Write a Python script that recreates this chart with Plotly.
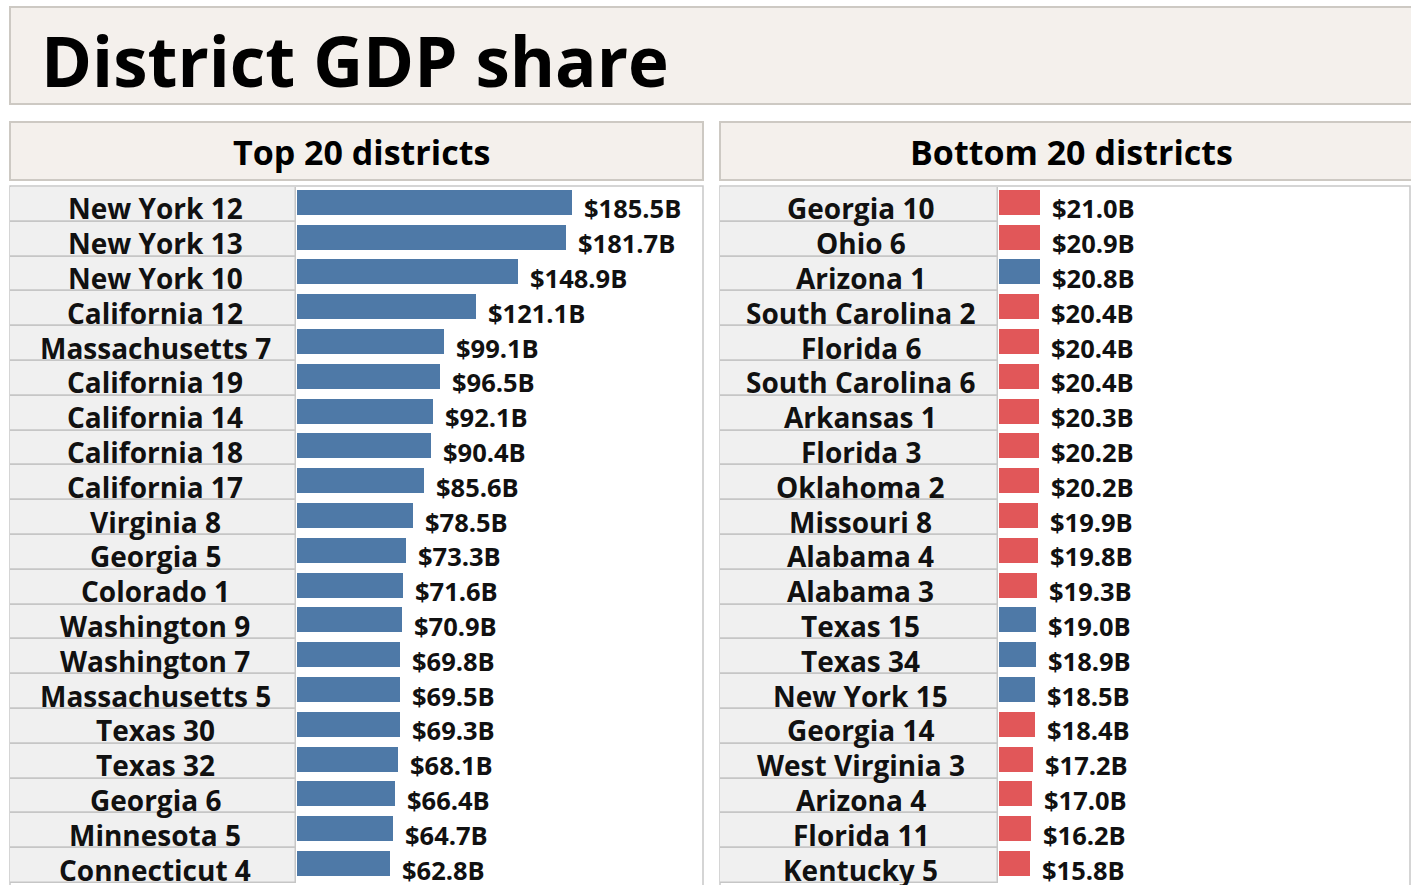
import plotly.graph_objects as go

W, H = 1411, 885

title_text = "District GDP share"
top_header = "Top 20 districts"
bottom_header = "Bottom 20 districts"

top_names = ["New York 12", "New York 13", "New York 10", "California 12", "Massachusetts 7",
             "California 19", "California 14", "California 18", "California 17", "Virginia 8",
             "Georgia 5", "Colorado 1", "Washington 9", "Washington 7", "Massachusetts 5",
             "Texas 30", "Texas 32", "Georgia 6", "Minnesota 5", "Connecticut 4"]
top_values = [185.5, 181.7, 148.9, 121.1, 99.1, 96.5, 92.1, 90.4, 85.6, 78.5,
              73.3, 71.6, 70.9, 69.8, 69.5, 69.3, 68.1, 66.4, 64.7, 62.8]
top_party = ["D"] * 20

bottom_names = ["Georgia 10", "Ohio 6", "Arizona 1", "South Carolina 2", "Florida 6",
                "South Carolina 6", "Arkansas 1", "Florida 3", "Oklahoma 2", "Missouri 8",
                "Alabama 4", "Alabama 3", "Texas 15", "Texas 34", "New York 15",
                "Georgia 14", "West Virginia 3", "Arizona 4", "Florida 11", "Kentucky 5"]
bottom_values = [21.0, 20.9, 20.8, 20.4, 20.4, 20.4, 20.3, 20.2, 20.2, 19.9,
                 19.8, 19.3, 19.0, 18.9, 18.5, 18.4, 17.2, 17.0, 16.2, 15.8]
bottom_party = ["R", "R", "D", "R", "R", "R", "R", "R", "R", "R",
                "R", "R", "D", "D", "D", "R", "R", "R", "R", "R"]

PARTY_COLORS = {"D": "#4E79A7", "R": "#E15759"}
FONT = "Open Sans"
BOX_FILL = "#F4F0EC"
BOX_LINE = "#CDC9C3"
CELL_FILL = "#F0F0F0"
CELL_LINE = "#C6C6C6"


def px(x):
    return x / W


def py(y):
    return 1 - y / H


ROW_H = 34.8
TABLE_TOP = 187
visible_rows = (H - TABLE_TOP) / ROW_H
y_range = [-0.5 + visible_rows, -0.5]
y_domain = [0, py(TABLE_TOP)]

fig = go.Figure()

panels = [
    dict(names=top_names, values=top_values, party=top_party, xa="x", ya="y", xl="x3",
         x_left=10, x_right=703),
    dict(names=bottom_names, values=bottom_values, party=bottom_party, xa="x2", ya="y2", xl="x4",
         x_left=720, x_right=1410),
]

annotations = []
shapes = []

for p in panels:
    # label cells
    fig.add_trace(go.Bar(
        x=[1] * len(p["names"]), y=p["names"], orientation="h", width=1,
        xaxis=p["xl"], yaxis=p["ya"],
        marker=dict(color=CELL_FILL, line=dict(color=CELL_LINE, width=1.5)),
        hoverinfo="skip", showlegend=False,
    ))
    # value bars
    fig.add_trace(go.Bar(
        x=p["values"], y=p["names"], orientation="h", width=0.72, offset=-0.42,
        xaxis=p["xa"], yaxis=p["ya"],
        marker=dict(color=[PARTY_COLORS[q] for q in p["party"]], line=dict(width=0)),
        showlegend=False,
        hovertemplate="%{y}: $%{x:.1f}B<extra></extra>",
    ))
    for n, v in zip(p["names"], p["values"]):
        annotations.append(dict(
            x=v, y=n, xref=p["xa"], yref=p["ya"], text=f"<b>${v:.1f}B</b>",
            showarrow=False, xanchor="left", yanchor="middle", xshift=10, yshift=-4,
            font=dict(family=FONT, size=25.5, color="#111111"),
        ))
        annotations.append(dict(
            x=0.5, y=n, xref=p["xl"], yref=p["ya"], text=f"<b>{n}</b>",
            showarrow=False, xanchor="center", yanchor="middle", xshift=2, yshift=-4,
            font=dict(family=FONT, size=28, color="#111111"),
        ))
    # table outline
    shapes.append(dict(type="rect", xref="paper", yref="paper",
                       x0=px(p["x_left"]), x1=px(p["x_right"]), y0=py(H + 5), y1=py(186),
                       line=dict(color="#C8C8C8", width=1.5), fillcolor="white", layer="below"))

# title box
shapes.append(dict(type="rect", xref="paper", yref="paper", x0=px(10), x1=px(1425), y0=py(104), y1=py(7),
                   line=dict(color=BOX_LINE, width=2), fillcolor=BOX_FILL, layer="below"))
# header boxes
shapes.append(dict(type="rect", xref="paper", yref="paper", x0=px(10), x1=px(703), y0=py(180), y1=py(122),
                   line=dict(color=BOX_LINE, width=2), fillcolor=BOX_FILL, layer="below"))
shapes.append(dict(type="rect", xref="paper", yref="paper", x0=px(720), x1=px(1425), y0=py(180), y1=py(122),
                   line=dict(color=BOX_LINE, width=2), fillcolor=BOX_FILL, layer="below"))

annotations.append(dict(x=px(39), y=py(60), xref="paper", yref="paper", text=f"<b>{title_text}</b>",
                        showarrow=False, xanchor="left", yanchor="middle",
                        font=dict(family=FONT, size=69, color="#000000")))
annotations.append(dict(x=px(361), y=py(152), xref="paper", yref="paper", text=f"<b>{top_header}</b>",
                        showarrow=False, xanchor="center", yanchor="middle",
                        font=dict(family=FONT, size=34, color="#000000")))
annotations.append(dict(x=px(1071), y=py(152), xref="paper", yref="paper", text=f"<b>{bottom_header}</b>",
                        showarrow=False, xanchor="center", yanchor="middle",
                        font=dict(family=FONT, size=34, color="#000000")))

hidden = dict(visible=False, showgrid=False, zeroline=False, fixedrange=True)

fig.update_layout(
    width=W, height=H,
    margin=dict(l=0, r=0, t=0, b=0),
    paper_bgcolor="white", plot_bgcolor="rgba(0,0,0,0)",
    barmode="overlay", bargap=0,
    xaxis=dict(domain=[px(297), px(703)], range=[0, 274], anchor="y", **hidden),
    xaxis2=dict(domain=[px(999), px(1410)], range=[0, 209], anchor="y2", **hidden),
    xaxis3=dict(domain=[px(10), px(296)], range=[0, 1], anchor="y", **hidden),
    xaxis4=dict(domain=[px(720), px(998)], range=[0, 1], anchor="y2", **hidden),
    yaxis=dict(domain=y_domain, range=y_range, type="category", categoryorder="array",
               categoryarray=top_names, anchor="x", **hidden),
    yaxis2=dict(domain=y_domain, range=y_range, type="category", categoryorder="array",
                categoryarray=bottom_names, anchor="x2", **hidden),
    shapes=shapes,
    annotations=annotations,
    showlegend=False,
)

fig.write_html(
    "out.html",
    config={"displayModeBar": False},
    post_script="document.body.style.margin='0';document.body.style.overflow='hidden';",
)
